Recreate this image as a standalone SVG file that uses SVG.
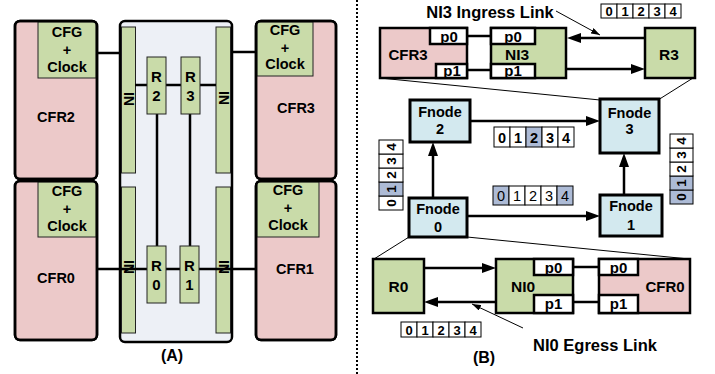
<svg xmlns="http://www.w3.org/2000/svg" width="715" height="374" viewBox="0 0 715 374">
<style>
.pk{fill:#ecc9c9}
.gr{fill:#c9dba9}
.bl{fill:#d3e9ef}
.wh{fill:#fff}
.hl{fill:#adbbd6}
.k{stroke:#000;stroke-width:2.5}
.kb{stroke:#000;stroke-width:3}
.tn{stroke:#222;stroke-width:1}
.cell{stroke:#000;stroke-width:1}
.no{fill:none}
.t{font-family:"Liberation Sans",Arial,sans-serif;font-weight:bold;text-anchor:middle;dominant-baseline:central;fill:#000}
.n{font-weight:normal}
.ln{stroke:#000;stroke-width:2.5;fill:none}
.ar{stroke:#000;stroke-width:2.5;fill:none;marker-end:url(#ah)}
.th{stroke:#000;stroke-width:1;fill:none}
</style>
<defs>
<marker id="ah" viewBox="0 0 14 10" refX="4" refY="5" markerWidth="14" markerHeight="10" markerUnits="userSpaceOnUse" orient="auto"><path d="M0,0 L14,5 L0,10 z" fill="#000"/></marker>
<marker id="sh" viewBox="0 0 9 6" refX="9" refY="3" markerWidth="9" markerHeight="6" markerUnits="userSpaceOnUse" orient="auto"><path d="M0,0 L9,3 L0,6 z" fill="#000"/></marker>
</defs>
<rect width="715" height="374" fill="#fff"/>

<!-- divider -->
<line x1="357" y1="0" x2="357" y2="374" stroke="#000" stroke-width="2" stroke-dasharray="2 2"/>

<!-- (A) -->
<g id="container">
<rect x="120" y="21" width="112" height="321" rx="5" fill="#edf0f6" class="k"/>
</g>
<g id="ni-strips">
<rect x="121.5" y="27" width="14" height="146" class="gr tn"/>
<rect x="121.5" y="187" width="14" height="146" class="gr tn"/>
<rect x="216" y="27" width="14.5" height="146" class="gr tn"/>
<rect x="216" y="187" width="14.5" height="146" class="gr tn"/>
</g>

<g id="connectors-a">
<line x1="97" y1="53" x2="121" y2="53" class="ln"/>
<line x1="231" y1="52" x2="256" y2="52" class="ln"/>
<line x1="135" y1="85" x2="216" y2="85" class="ln"/>
<line x1="157" y1="114" x2="157" y2="246" class="ln"/>
<line x1="190" y1="114" x2="190" y2="246" class="ln"/>
<line x1="97" y1="269" x2="256" y2="269" class="ln"/>
</g>

<g id="ni-labels">
<text class="t" font-size="14" transform="translate(128.5,99) rotate(-90)">NI</text>
<text class="t" font-size="14" transform="translate(128.5,267) rotate(-90)">NI</text>
<text class="t" font-size="14" transform="translate(223.5,98) rotate(-90)">NI</text>
<text class="t" font-size="14" transform="translate(223.5,267) rotate(-90)">NI</text>
</g>

<g id="R2"><rect x="147" y="57" width="19" height="57" class="gr tn"/><text class="t" font-size="15" x="156.5" y="76">R</text><text class="t" font-size="15" x="156.5" y="95">2</text></g>
<g id="R3"><rect x="181" y="57" width="19" height="57" class="gr tn"/><text class="t" font-size="15" x="190.5" y="76">R</text><text class="t" font-size="15" x="190.5" y="95">3</text></g>
<g id="R0"><rect x="147" y="246" width="19" height="57" class="gr tn"/><text class="t" font-size="15" x="156.5" y="265">R</text><text class="t" font-size="15" x="156.5" y="284">0</text></g>
<g id="R1"><rect x="180" y="246" width="19" height="57" class="gr tn"/><text class="t" font-size="15" x="189.5" y="265">R</text><text class="t" font-size="15" x="189.5" y="284">1</text></g>

<g id="CFR2">
<rect x="15" y="21" width="82" height="158" rx="5" class="pk k"/>
<rect x="38" y="22" width="58" height="56" class="gr tn"/>
<rect x="15" y="21" width="82" height="158" rx="5" class="no k"/>
<text class="t" font-size="14.5" x="67" y="32">CFG</text>
<text class="t" font-size="14.5" x="67" y="50">+</text>
<text class="t" font-size="14.5" x="67" y="67">Clock</text>
<text class="t" font-size="14.5" x="56" y="117">CFR2</text>
</g>
<g id="CFR3">
<rect x="256" y="21" width="80" height="158" rx="5" class="pk k"/>
<rect x="257" y="22" width="56" height="54" class="gr tn"/>
<rect x="256" y="21" width="80" height="158" rx="5" class="no k"/>
<text class="t" font-size="14.5" x="285" y="30">CFG</text>
<text class="t" font-size="14.5" x="285" y="48">+</text>
<text class="t" font-size="14.5" x="285" y="64">Clock</text>
<text class="t" font-size="14.5" x="296" y="108">CFR3</text>
</g>
<g id="CFR0">
<rect x="15" y="181" width="82" height="159" rx="5" class="pk k"/>
<rect x="38" y="182" width="58" height="55" class="gr tn"/>
<rect x="15" y="181" width="82" height="159" rx="5" class="no k"/>
<text class="t" font-size="14.5" x="67" y="191">CFG</text>
<text class="t" font-size="14.5" x="67" y="209">+</text>
<text class="t" font-size="14.5" x="67" y="226">Clock</text>
<text class="t" font-size="14.5" x="56" y="278">CFR0</text>
</g>
<g id="CFR1">
<rect x="256" y="181" width="80" height="159" rx="5" class="pk k"/>
<rect x="257" y="182" width="62" height="55" class="gr tn"/>
<rect x="256" y="181" width="80" height="159" rx="5" class="no k"/>
<text class="t" font-size="14.5" x="288" y="190">CFG</text>
<text class="t" font-size="14.5" x="288" y="208">+</text>
<text class="t" font-size="14.5" x="288" y="225">Clock</text>
<text class="t" font-size="14.5" x="295" y="269">CFR1</text>
</g>
<text class="t" font-size="16" x="172" y="355">(A)</text>

<!-- (B) -->
<g id="connectors-b">
<line x1="380" y1="78" x2="600" y2="100" class="th"/>
<line x1="693" y1="78" x2="658" y2="100" class="th"/>
<line x1="409" y1="237" x2="374" y2="259" class="th"/>
<line x1="467" y1="237" x2="689" y2="259" class="th"/>
<line x1="467" y1="36" x2="491" y2="36" class="ln"/>
<line x1="467" y1="70" x2="491" y2="70" class="ln"/>
<line x1="645" y1="38" x2="577" y2="38" class="ar"/>
<line x1="566" y1="69" x2="635" y2="69" class="ar"/>
<line x1="470" y1="121" x2="590" y2="121" class="ar"/>
<line x1="467" y1="216" x2="590" y2="216" class="ar"/>
<line x1="433" y1="198" x2="433" y2="152" class="ar"/>
<line x1="624" y1="195" x2="624" y2="163" class="ar"/>
<line x1="424" y1="268" x2="486" y2="268" class="ar"/>
<line x1="496" y1="302" x2="434" y2="302" class="ar"/>
<line x1="573" y1="267" x2="599" y2="267" class="ln"/>
<line x1="573" y1="302" x2="599" y2="302" class="ln"/>
<line x1="556" y1="11" x2="600" y2="35" stroke="#000" stroke-width="1" marker-end="url(#sh)"/>
<line x1="523" y1="328" x2="472" y2="304" stroke="#000" stroke-width="1" marker-end="url(#sh)"/>
</g>

<text class="t" font-size="16.5" x="490" y="12">NI3 Ingress Link</text>
<text class="t" font-size="16.5" x="595" y="345">NI0 Egress Link</text>
<text class="t" font-size="16" x="484" y="357">(B)</text>

<g id="CFR3b">
<rect x="380" y="28" width="87" height="50" class="pk k"/>
<rect x="430" y="28" width="37" height="16" class="wh k"/>
<rect x="436" y="64" width="31" height="14" class="wh k"/>
<text class="t" font-size="15" x="408" y="54">CFR3</text>
<text class="t" font-size="15" x="449" y="36">p0</text>
<text class="t" font-size="15" x="452" y="70">p1</text>
</g>
<g id="NI3">
<rect x="491" y="28" width="75" height="50" class="gr k"/>
<rect x="491" y="28" width="44" height="16" class="wh k"/>
<rect x="491" y="64" width="44" height="14" class="wh k"/>
<text class="t" font-size="15.5" x="517" y="54">NI3</text>
<text class="t" font-size="15" x="513" y="36">p0</text>
<text class="t" font-size="15" x="513" y="70">p1</text>
</g>
<g id="R3b">
<rect x="645" y="28" width="50" height="50" class="gr k"/>
<text class="t" font-size="15.5" x="669" y="54">R3</text>
</g>

<g id="Fnode2"><rect x="410" y="100" width="60" height="42" class="bl kb"/><text class="t" font-size="14.5" x="440" y="112">Fnode</text><text class="t" font-size="14.5" x="440" y="129">2</text></g>
<g id="Fnode3"><rect x="600" y="99" width="59" height="54" class="bl kb"/><text class="t" font-size="14.5" x="629.5" y="113">Fnode</text><text class="t" font-size="14.5" x="629.5" y="129">3</text></g>
<g id="Fnode0"><rect x="409" y="198" width="58" height="39" class="bl kb"/><text class="t" font-size="14.5" x="438" y="209">Fnode</text><text class="t" font-size="14.5" x="438" y="227">0</text></g>
<g id="Fnode1"><rect x="600" y="195" width="62" height="41" class="bl kb"/><text class="t" font-size="14.5" x="631" y="206">Fnode</text><text class="t" font-size="14.5" x="631" y="225">1</text></g>

<g id="R0b">
<rect x="373" y="259" width="51" height="54" class="gr k"/>
<text class="t" font-size="15.5" x="398.5" y="286">R0</text>
</g>
<g id="NI0">
<rect x="496" y="259" width="77" height="54" class="gr k"/>
<rect x="534" y="259" width="39" height="16" class="wh k"/>
<rect x="534" y="295" width="39" height="18" class="wh k"/>
<text class="t" font-size="15.5" x="523" y="286">NI0</text>
<text class="t" font-size="15" x="553.5" y="267">p0</text>
<text class="t" font-size="15" x="553.5" y="303">p1</text>
</g>
<g id="CFR0b">
<rect x="599" y="259" width="91" height="54" class="pk k"/>
<rect x="599" y="259" width="39" height="16" class="wh k"/>
<rect x="599" y="295" width="39" height="18" class="wh k"/>
<text class="t" font-size="15" x="665" y="286">CFR0</text>
<text class="t" font-size="15" x="618.5" y="267">p0</text>
<text class="t" font-size="15" x="618.5" y="303">p1</text>
</g>

<!-- arrays -->
<g id="array-top">
<rect x="601" y="4" width="16" height="14" class="wh cell"/><rect x="617" y="4" width="16" height="14" class="wh cell"/><rect x="633" y="4" width="16" height="14" class="wh cell"/><rect x="649" y="4" width="16" height="14" class="wh cell"/><rect x="665" y="4" width="16" height="14" class="wh cell"/>
<text class="t" font-size="13" x="609" y="11.5">0</text><text class="t" font-size="13" x="625" y="11.5">1</text><text class="t" font-size="13" x="641" y="11.5">2</text><text class="t" font-size="13" x="657" y="11.5">3</text><text class="t" font-size="13" x="673" y="11.5">4</text>
</g>
<g id="array-bottom">
<rect x="401" y="322" width="16" height="15" class="wh cell"/><rect x="417" y="322" width="16" height="15" class="wh cell"/><rect x="433" y="322" width="16" height="15" class="wh cell"/><rect x="449" y="322" width="16" height="15" class="wh cell"/><rect x="465" y="322" width="16" height="15" class="wh cell"/>
<text class="t" font-size="13" x="409" y="330">0</text><text class="t" font-size="13" x="425" y="330">1</text><text class="t" font-size="13" x="441" y="330">2</text><text class="t" font-size="13" x="457" y="330">3</text><text class="t" font-size="13" x="473" y="330">4</text>
</g>
<g id="array-mid1">
<rect x="494" y="127" width="16" height="20" class="wh cell"/><rect x="510" y="127" width="16" height="20" class="wh cell"/><rect x="526" y="127" width="16" height="20" class="hl cell"/><rect x="542" y="127" width="16" height="20" class="wh cell"/><rect x="558" y="127" width="16" height="20" class="wh cell"/>
<text class="t" font-size="14.5" x="502" y="137.5">0</text><text class="t" font-size="14.5" x="518" y="137.5">1</text><text class="t" font-size="14.5" x="534" y="137.5">2</text><text class="t" font-size="14.5" x="550" y="137.5">3</text><text class="t" font-size="14.5" x="566" y="137.5">4</text>
</g>
<g id="array-mid2">
<rect x="493" y="186" width="16" height="19" class="hl cell"/><rect x="509" y="186" width="16" height="19" class="wh cell"/><rect x="525" y="186" width="16" height="19" class="wh cell"/><rect x="541" y="186" width="16" height="19" class="wh cell"/><rect x="557" y="186" width="16" height="19" class="hl cell"/>
<text class="t n" font-size="14.5" x="501" y="196">0</text><text class="t n" font-size="14.5" x="517" y="196">1</text><text class="t n" font-size="14.5" x="533" y="196">2</text><text class="t n" font-size="14.5" x="549" y="196">3</text><text class="t n" font-size="14.5" x="565" y="196">4</text>
</g>
<g id="array-left">
<rect x="379" y="196" width="24" height="14" class="wh cell"/><rect x="379" y="182" width="24" height="14" class="hl cell"/><rect x="379" y="168" width="24" height="14" class="wh cell"/><rect x="379" y="154" width="24" height="14" class="wh cell"/><rect x="379" y="140" width="24" height="14" class="wh cell"/>
<text class="t" font-size="13.5" transform="translate(391,203) rotate(-90)">0</text><text class="t" font-size="13.5" transform="translate(391,189) rotate(-90)">1</text><text class="t" font-size="13.5" transform="translate(391,175) rotate(-90)">2</text><text class="t" font-size="13.5" transform="translate(391,161) rotate(-90)">3</text><text class="t" font-size="13.5" transform="translate(391,147) rotate(-90)">4</text>
</g>
<g id="array-right">
<rect x="670" y="190" width="23" height="14" class="hl cell"/><rect x="670" y="176" width="23" height="14" class="hl cell"/><rect x="670" y="162" width="23" height="14" class="wh cell"/><rect x="670" y="148" width="23" height="14" class="wh cell"/><rect x="670" y="134" width="23" height="14" class="wh cell"/>
<text class="t" font-size="13.5" transform="translate(681.5,197) rotate(-90)">0</text><text class="t" font-size="13.5" transform="translate(681.5,183) rotate(-90)">1</text><text class="t" font-size="13.5" transform="translate(681.5,169) rotate(-90)">2</text><text class="t" font-size="13.5" transform="translate(681.5,155) rotate(-90)">3</text><text class="t" font-size="13.5" transform="translate(681.5,141) rotate(-90)">4</text>
</g>
</svg>
